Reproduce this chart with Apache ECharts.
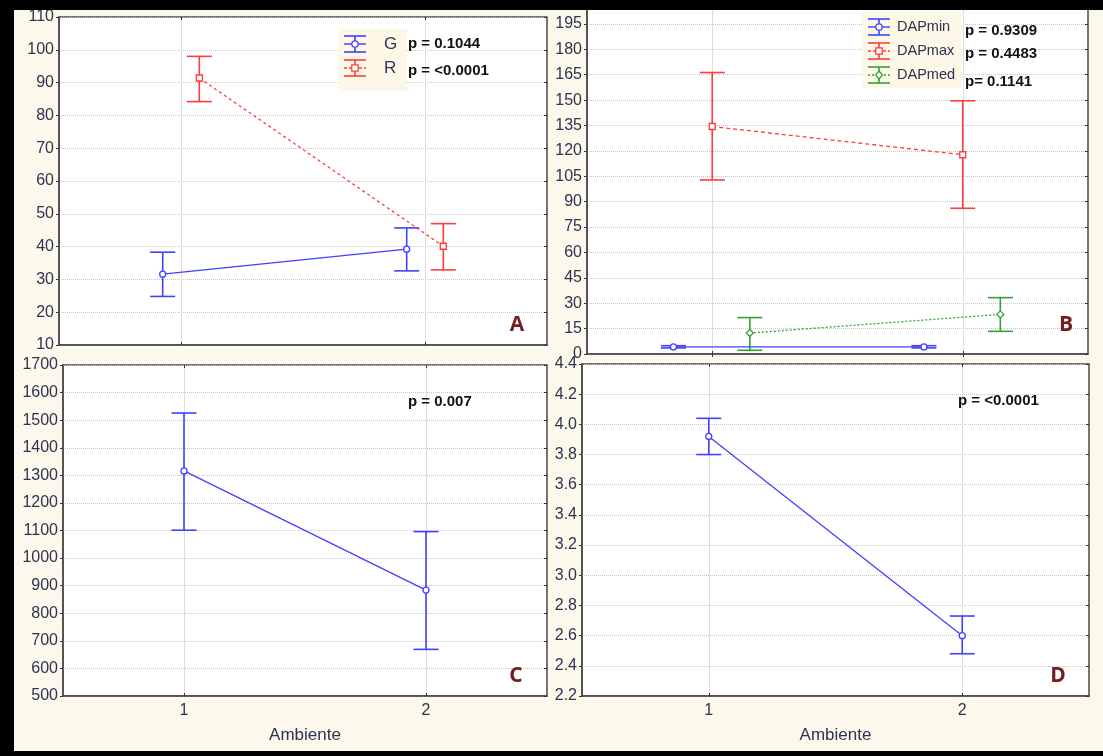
<!DOCTYPE html>
<html>
<head>
<meta charset="utf-8">
<script src="https://cdn.jsdelivr.net/npm/echarts@6/dist/echarts.min.js"></script>
<style>
html,body{margin:0;padding:0;background:#fdf8ec;}
#chart{width:1103px;height:756px;}
</style>
</head>
<body>
<div id="chart"></div>
<script>
// ---------- data ----------
const categories = [1, 2];
const xTickLabels = ['1', '2'];
const xAxisName = 'Ambiente';

// Panel A
const gMean = [31.6, 39.2];
const gLow  = [24.8, 32.6];
const gHigh = [38.3, 45.7];
const rMean = [91.4, 40.1];
const rLow  = [84.2, 32.9];
const rHigh = [98.0, 47.0];
const yRangeA = [10, 110, 10];

// Panel B
const dapMinMean = [4.2, 4.2];
const dapMinLow  = [3.6, 3.6];
const dapMinHigh = [4.9, 4.9];
const dapMaxMean = [134.4, 117.7];
const dapMaxLow  = [102.8, 86.1];
const dapMaxHigh = [166.3, 149.6];
const dapMedMean = [12.4, 23.4];
const dapMedLow  = [2.2, 13.4];
const dapMedHigh = [21.5, 33.3];
const yRangeB = [0, 205, 15];

// Panel C
const cMean = [1316, 884];
const cLow  = [1101, 669];
const cHigh = [1526, 1096];
const yRangeC = [500, 1700, 100];

// Panel D
const dMean = [3.92, 2.60];
const dLow  = [3.80, 2.48];
const dHigh = [4.04, 2.73];
const yRangeD = [2.2, 4.4, 0.2];

const legendA = ['G', 'R'];
const pA = ['p = 0.1044', 'p = <0.0001'];
const legendB = ['DAPmin', 'DAPmax', 'DAPmed'];
const pB = ['p = 0.9309', 'p = 0.4483', 'p= 0.1141'];
const pC = 'p = 0.007';
const pD = 'p = <0.0001';
const panelLetters = ['A', 'B', 'C', 'D'];

// ---------- styling ----------
const BLUE = '#4040ff', RED = '#ff3b3b', GREEN = '#35a035';
const TXT = '#2d3350';
const FONT = '"Liberation Sans", Arial, sans-serif';

const grids = [
  {left: 59, top: 17, width: 488, height: 328},
  {left: 587, top: 7, width: 501, height: 347},
  {left: 63, top: 365, width: 484, height: 331},
  {left: 582, top: 364, width: 507, height: 332}
];
const yRanges = [yRangeA, yRangeB, yRangeC, yRangeD];

const xAxes = [], yAxes = [];
grids.forEach((g, i) => {
  const showX = i >= 2;
  xAxes.push({
    type: 'value', gridIndex: i, min: 0.5, max: 2.5, position: 'bottom',
    axisLine: {show: true, lineStyle: {color: '#4a4a4a', width: 1.5}},
    axisTick: {show: true, inside: true, length: 3, customValues: categories, lineStyle: {color: '#333'}},
    axisLabel: {show: showX, customValues: categories, color: TXT, fontFamily: FONT, fontSize: 16, margin: 7,
      formatter: v => xTickLabels[categories.indexOf(v)] ?? ''},
    splitLine: {show: true, lineStyle: {color: '#dedede', width: 1}},
    name: showX ? xAxisName : '', nameLocation: 'middle', nameGap: 31,
    nameTextStyle: {color: TXT, fontFamily: FONT, fontSize: 17}
  });
  xAxes.push({
    type: 'value', gridIndex: i, min: 0.5, max: 2.5, position: 'top',
    axisLine: {show: false},
    axisTick: {show: true, inside: true, length: 3, customValues: categories, lineStyle: {color: '#333'}},
    axisLabel: {show: false, customValues: categories},
    splitLine: {show: false}
  });
  const r = yRanges[i];
  const dec = r[2] < 1 ? 1 : 0;
  yAxes.push({
    type: 'value', gridIndex: i, min: r[0], max: r[1], interval: r[2], position: 'left',
    axisLine: {show: true, lineStyle: {color: '#4a4a4a', width: 1.5}},
    axisTick: {show: true, inside: false, length: 3, lineStyle: {color: '#333'}},
    axisLabel: {color: TXT, fontFamily: FONT, fontSize: 16, margin: 5,
      formatter: v => {
        const k = Math.round((v - r[0]) / r[2]);
        if (Math.abs(r[0] + k * r[2] - v) > 1e-6) return '';
        return v.toFixed(dec);
      }},
    splitLine: {show: true, lineStyle: {color: '#c6c6c6', type: [1, 1], width: 1}}
  });
  yAxes.push({
    type: 'value', gridIndex: i, min: r[0], max: r[1], interval: r[2], position: 'right',
    axisLine: {show: false},
    axisTick: {show: true, inside: true, length: 3, lineStyle: {color: '#333'}},
    axisLabel: {show: false},
    splitLine: {show: false}
  });
});

function errorSeries(grid, offset, low, high, color) {
  return {
    type: 'custom', xAxisIndex: grid * 2, yAxisIndex: grid * 2, z: 3,
    data: categories.map((c, k) => [c + offset, low[k], high[k]]),
    encode: {x: 0, y: [1, 2]},
    renderItem: (params, api) => {
      const x = api.value(0);
      const a = api.coord([x, api.value(1)]);
      const b = api.coord([x, api.value(2)]);
      const hw = 12.5;
      const st = {stroke: color, lineWidth: 1.6};
      return {type: 'group', children: [
        {type: 'line', shape: {x1: a[0], y1: a[1], x2: b[0], y2: b[1]}, style: st},
        {type: 'line', shape: {x1: a[0] - hw, y1: a[1], x2: a[0] + hw, y2: a[1]}, style: st},
        {type: 'line', shape: {x1: b[0] - hw, y1: b[1], x2: b[0] + hw, y2: b[1]}, style: st}
      ]};
    }
  };
}
function lineSeries(grid, offset, mean, color, dash, symbol, size) {
  return {
    type: 'line', xAxisIndex: grid * 2, yAxisIndex: grid * 2, z: 4,
    data: categories.map((c, k) => [c + offset, mean[k]]),
    symbol: symbol, symbolSize: size, showSymbol: true,
    lineStyle: {color: color, width: 1.3, type: dash},
    itemStyle: {color: '#fff', borderColor: color, borderWidth: 1.3},
    animation: false
  };
}

const series = [
  lineSeries(0, -0.075, gMean, BLUE, 'solid', 'circle', 6),
  errorSeries(0, -0.075, gLow, gHigh, BLUE),
  lineSeries(0, 0.075, rMean, RED, [3, 3], 'rect', 6),
  errorSeries(0, 0.075, rLow, rHigh, RED),

  lineSeries(1, -0.155, dapMinMean, BLUE, 'solid', 'circle', 6),
  errorSeries(1, -0.155, dapMinLow, dapMinHigh, BLUE),
  lineSeries(1, 0, dapMaxMean, RED, [4, 3], 'rect', 6),
  errorSeries(1, 0, dapMaxLow, dapMaxHigh, RED),
  lineSeries(1, 0.15, dapMedMean, GREEN, [2, 2], 'diamond', 7),
  errorSeries(1, 0.15, dapMedLow, dapMedHigh, GREEN),

  lineSeries(2, 0, cMean, BLUE, 'solid', 'circle', 6),
  errorSeries(2, 0, cLow, cHigh, BLUE),

  lineSeries(3, 0, dMean, BLUE, 'solid', 'circle', 6),
  errorSeries(3, 0, dLow, dHigh, BLUE)
];

// ---------- legend / annotation graphics ----------
function legendIcon(cx, cy, color, dash, sym) {
  const hw = 11, hh = 8;
  const st = {stroke: color, lineWidth: 1.6};
  const els = [
    {type: 'line', shape: {x1: cx - hw, y1: cy - hh, x2: cx + hw, y2: cy - hh}, style: st},
    {type: 'line', shape: {x1: cx - hw, y1: cy + hh, x2: cx + hw, y2: cy + hh}, style: st},
    {type: 'line', shape: {x1: cx, y1: cy - hh, x2: cx, y2: cy + hh}, style: st},
    {type: 'line', shape: {x1: cx - hw, y1: cy, x2: cx + hw, y2: cy}, style: {stroke: color, lineWidth: 1.4, lineDash: dash}}
  ];
  if (sym === 'circle') els.push({type: 'circle', shape: {cx: cx, cy: cy, r: 3.2}, style: {fill: '#fff', stroke: color, lineWidth: 1.3}});
  else if (sym === 'rect') els.push({type: 'rect', shape: {x: cx - 3.2, y: cy - 3.2, width: 6.4, height: 6.4}, style: {fill: '#fff', stroke: color, lineWidth: 1.3}});
  else els.push({type: 'polygon', shape: {points: [[cx, cy - 4], [cx + 3.5, cy], [cx, cy + 4], [cx - 3.5, cy]]}, style: {fill: '#fff', stroke: color, lineWidth: 1.3}});
  return els;
}
function txt(x, y, s, opts) {
  return Object.assign({type: 'text', x: x, y: y, z: 50,
    style: Object.assign({text: s, fill: '#111', font: 'bold 15px ' + FONT, textAlign: 'left', textVerticalAlign: 'middle'}, opts || {})});
}

const g = [];
// legend A
g.push({type: 'rect', z: 40, shape: {x: 338, y: 29, width: 69, height: 62}, style: {fill: '#fdf7e8'}});
[[BLUE, null, 'circle'], [RED, [3, 2], 'rect']].forEach((d, k) => {
  const cy = 44 + k * 24;
  legendIcon(355, cy, d[0], d[1], d[2]).forEach(e => { e.z = 45; g.push(e); });
  g.push(txt(384, cy, legendA[k], {fill: TXT, font: '17px ' + FONT}));
  g.push(txt(408, cy + (k === 0 ? 0 : 3), pA[k]));
});
// legend B
g.push({type: 'rect', z: 40, shape: {x: 862, y: 12, width: 100, height: 76}, style: {fill: '#fdf7e8'}});
[[BLUE, null, 'circle'], [RED, [3, 2], 'rect'], [GREEN, [2, 2], 'diamond']].forEach((d, k) => {
  const cy = 27 + k * 24;
  legendIcon(879, cy, d[0], d[1], d[2]).forEach(e => { e.z = 45; g.push(e); });
  g.push(txt(897, cy, legendB[k], {fill: TXT, font: '14.5px ' + FONT}));
});
[31, 54, 82].forEach((y, k) => g.push(txt(965, y, pB[k])));
g.push(txt(408, 402, pC));
g.push(txt(958, 401, pD));
// panel letters
const letterPos = [[517, 325], [1066, 325], [516, 676], [1058, 676]];
letterPos.forEach((p, k) => g.push(txt(p[0], p[1], panelLetters[k],
  {fill: '#702020', font: 'bold 21px "Open Sans", ' + FONT, textAlign: 'center'})));
// black frame
g.push({type: 'rect', z: 100, shape: {x: 0, y: 0, width: 1103, height: 10}, style: {fill: '#000'}});
g.push({type: 'rect', z: 100, shape: {x: 0, y: 0, width: 14, height: 756}, style: {fill: '#000'}});
g.push({type: 'rect', z: 100, shape: {x: 0, y: 751, width: 1103, height: 5}, style: {fill: '#000'}});

const chart = echarts.init(document.getElementById('chart'), null, {renderer: 'canvas'});
chart.setOption({
  animation: false,
  backgroundColor: '#fdf8ec',
  grid: grids.map(gr => Object.assign({show: true, backgroundColor: '#ffffff', borderColor: '#4a4a4a', borderWidth: 1.5, containLabel: false}, gr)),
  xAxis: xAxes,
  yAxis: yAxes,
  series: series,
  graphic: {elements: g}
});
</script>
</body>
</html>
